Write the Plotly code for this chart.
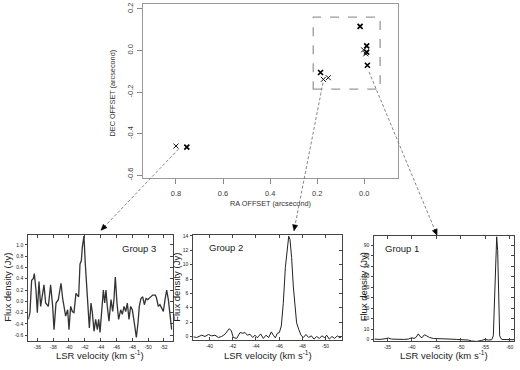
import plotly.graph_objects as go

# ---------------- data ----------------
ra_thin = [0.800, 0.174, 0.153, 0.003, -0.006]
dec_thin = [-0.460, -0.139, -0.131, 0.003, -0.016]
ra_bold = [0.754, 0.186, 0.018, -0.010, -0.010, -0.013]
dec_bold = [-0.465, -0.106, 0.116, 0.022, -0.008, -0.071]
box_ra = [0.217, -0.067]
box_dec = [-0.186, 0.161]

g3_vel = [-34.86, -35.07, -35.28, -35.49, -35.62, -35.83, -36.0, -36.21, -36.42, -36.59,
          -36.84, -37.05, -37.39, -37.68, -37.94, -38.11, -38.36, -38.65, -38.99, -39.2,
          -39.41, -39.58, -39.83, -40.0, -40.21, -40.42, -40.63, -40.88, -41.05, -41.22,
          -41.39, -41.56, -41.68, -41.89, -42.06, -42.23, -42.4, -42.57, -42.78, -42.95,
          -43.16, -43.37, -43.58, -43.75, -43.92, -44.13, -44.34, -44.51, -44.67, -44.84,
          -45.05, -45.31, -45.52, -45.68, -45.85, -46.06, -46.27, -46.53, -46.74, -46.95,
          -47.16, -47.37, -47.58, -47.79, -48.0, -48.25, -48.51, -48.72, -48.88, -49.09,
          -49.31, -49.52, -49.73, -49.94, -50.23, -50.57, -50.91, -51.07, -51.28, -51.49,
          -51.71, -51.92, -52.13, -52.34, -52.55, -52.76, -52.97]
g3_flux = [-0.32, -0.2, 0.37, 0.4, 0.49, 0.2, -0.2, 0.35, -0.09, 0.06,
           0.29, -0.03, -0.09, 0.29, -0.09, -0.5, -0.03, 0.03, 0.32, 0.05,
           -0.09, -0.26, -0.15, -0.5, -0.09, -0.18, -0.2, 0.14, 0.11, 0.08,
           0.66, 0.72, 0.95, 1.16, 0.66, 0.2, -0.09, -0.47, -0.03, -0.2,
           -0.53, -0.32, -0.5, -0.32, -0.55, -0.15, 0.2, -0.03, 0.2, -0.09,
           -0.35, 0.03, -0.18, 0.03, 0.43, -0.03, -0.32, -0.15, -0.23, -0.09,
           -0.18, -0.03, -0.32, -0.09, -0.15, -0.38, -0.64, -0.38, -0.09, 0.05,
           0.08, -0.06, 0.05, 0.03, 0.07, 0.11, 0.11, 0.05, -0.09, -0.06,
           -0.12, -0.18, 0.03, 0.2, 0.03, -0.26, -0.5]

g2_vel = [-38.61, -38.89, -39.33, -39.61, -39.9, -40.19, -40.47, -40.76, -41.05, -41.34,
          -41.54, -41.71, -41.88, -42.05, -42.34, -42.63, -42.86, -43.06, -43.26, -43.49,
          -43.72, -43.92, -44.12, -44.41, -44.64, -44.87, -45.1, -45.33, -45.5, -45.68,
          -45.85, -46.02, -46.19, -46.36, -46.54, -46.71, -46.83, -46.94, -47.08, -47.23,
          -47.37, -47.51, -47.69, -47.89, -48.09, -48.32, -48.55, -48.78, -49.01, -49.24,
          -49.47, -49.7, -49.93, -50.1, -50.33, -50.56, -50.79, -51.02, -51.25, -51.39]
g2_flux = [-0.05, -0.14, 0.18, 0.0, 0.27, 0.09, 0.18, -0.14, 0.0, 0.32,
           0.77, 1.09, 0.77, -0.14, -0.27, 0.55, 0.45, 0.55, 0.18, 0.32,
           -0.14, 0.18, -0.18, 0.36, -0.27, 0.18, -0.14, 0.64, 0.18, -0.18,
           0.45, 0.55, 1.45, 4.6, 9.6, 12.8, 13.95, 13.5, 11.0, 6.9,
           3.7, 1.9, 1.0, 0.18, -0.14, 0.27, -0.14, 0.09, -0.36, 0.0,
           -0.27, 0.09, -0.18, 0.18, -0.36, 0.0, -0.27, 0.09, -0.18, 0.0]

g1_vel = [-32.31, -33.47, -34.49, -35.17, -35.85, -36.87, -38.24, -39.26, -39.94, -40.42,
          -40.83, -41.3, -41.65, -42.06, -42.53, -43.01, -43.55, -44.37, -45.39, -46.42,
          -47.78, -49.15, -50.51, -51.53, -52.21, -53.24, -54.26, -54.94, -55.62, -56.3,
          -56.64, -56.92, -57.19, -57.33, -57.53, -57.73, -57.94, -58.35, -59.37, -60.39, -60.8]
g1_flux = [0.6, 0.3, 0.9, 1.6, 0.6, 0.3, 0.3, 0.6, 1.9, 1.2,
           2.2, 5.6, 3.1, 1.9, 4.7, 3.7, 2.2, 1.2, 1.2, 0.6,
           0.6, 0.3, 0.0, -0.3, -1.2, -1.6, -0.6, 0.3, -0.3, 0.0,
           3.7, 41.0, 91.0, 97.8, 84.7, 41.0, 3.7, 0.3, 0.0, 0.3, 0.0]

top_xticks = [0.8, 0.6, 0.4, 0.2, 0.0]
top_xlabels = ["0.8", "0.6", "0.4", "0.2", "0.0"]
top_yticks = [0.2, 0.0, -0.2, -0.4, -0.6]
top_ylabels = ["0.2", "0.0", "-0.2", "-0.4", "-0.6"]

g3_xticks = [-36, -38, -40, -42, -44, -46, -48, -50, -52]
g3_yticks = [1.0, 0.8, 0.6, 0.4, 0.2, 0.0, -0.2, -0.4, -0.6]
g3_ylabels = ["1.0", "0.8", "0.6", "0.4", "0.2", "0.0", "-0.2", "-0.4", "-0.6"]
g2_xticks = [-40, -42, -44, -46, -48, -50]
g2_yticks = [0, 2, 4, 6, 8, 10, 12, 14]
g1_xticks = [-35, -40, -45, -50, -55, -60]
g1_yticks = [0, 10, 20, 30, 40, 50, 60, 70, 80, 90]
group_names = ["Group 3", "Group 2", "Group 1"]

# ---------------- figure ----------------
W, H = 520, 370
FONT = "Liberation Sans, Arial, Helvetica, sans-serif"


def px(x):
    return x / W


def py(y):
    return 1 - y / H


fig = go.Figure()

# top scatter
fig.add_trace(go.Scatter(x=ra_thin, y=dec_thin, mode="markers", xaxis="x", yaxis="y",
                         marker=dict(symbol="x-thin", size=5, line=dict(width=1, color="#111")),
                         showlegend=False, hoverinfo="skip"))
fig.add_trace(go.Scatter(x=ra_bold, y=dec_bold, mode="markers", xaxis="x", yaxis="y",
                         marker=dict(symbol="x-thin", size=5, line=dict(width=1.7, color="#000")),
                         showlegend=False, hoverinfo="skip"))

# spectra
spec = [(g3_vel, g3_flux, "x2", "y2", "#333", 1.3),
        (g2_vel, g2_flux, "x3", "y3", "#222", 1.0),
        (g1_vel, g1_flux, "x4", "y4", "#222", 1.0)]
for v, f, xa, ya, c, w in spec:
    fig.add_trace(go.Scatter(x=v, y=f, mode="lines", xaxis=xa, yaxis=ya,
                             line=dict(color=c, width=w), showlegend=False, hoverinfo="skip"))

# dummy traces for top/right mirrored inside ticks
for k in (5, 6, 7):
    fig.add_trace(go.Scatter(x=[None], y=[None], xaxis=f"x{k}", yaxis=f"y{k}",
                             showlegend=False, hoverinfo="skip"))

top_axis_common = dict(showgrid=False, zeroline=False, showline=True, linecolor="#999",
                       linewidth=1.3, mirror=True, ticks="outside", ticklen=5,
                       tickcolor="#888", tickwidth=1,
                       tickfont=dict(size=7.5, color="#3a3a3a", family=FONT))

layout = dict(
    width=W, height=H, autosize=False,
    margin=dict(l=0, r=0, t=0, b=0),
    paper_bgcolor="white", plot_bgcolor="white",
    font=dict(family=FONT),
    xaxis=dict(domain=[px(143), px(398)], range=[0.94, -0.143], anchor="y",
               tickvals=top_xticks, ticktext=top_xlabels, ticklabelstandoff=3,
               **top_axis_common),
    yaxis=dict(domain=[py(177.5), py(1)], range=[-0.612, 0.224], anchor="x",
               tickvals=top_yticks, ticktext=top_ylabels, tickangle=-90,
               ticklabelstandoff=1, **top_axis_common),
)

panels = [
    (2, 5, [28.3, 172.7], [236, 343.3], [-34.86, -53.1], [-0.697, 1.17], g3_xticks, g3_yticks, g3_ylabels),
    (3, 6, [193.3, 341.7], [236, 343], [-38.6, -51.4], [-0.55, 14.1], g2_xticks, g2_yticks, [str(t) for t in g2_yticks]),
    (4, 7, [374.3, 514], [236.7, 344], [-32.3, -60.87], [-1.6, 98.7], g1_xticks, g1_yticks, [str(t) for t in g1_yticks]),
]

bot_common = dict(showgrid=False, zeroline=False, showline=True, linecolor="#444",
                  linewidth=1, tickcolor="#444", tickwidth=1,
                  tickfont=dict(size=5, color="#222", family=FONT))

for k, m, xd, yd, xr, yr, xt, yt, yl in panels:
    layout[f"xaxis{k}"] = dict(domain=[px(xd[0]), px(xd[1])], range=xr, anchor=f"y{k}",
                               tickvals=xt, ticktext=[str(t) for t in xt], ticks="inside",
                               ticklen=3, ticklabelstandoff=1, **bot_common)
    layout[f"yaxis{k}"] = dict(domain=[py(yd[1]), py(yd[0])], range=yr, anchor=f"x{k}",
                               tickvals=yt, ticktext=yl, ticks="outside", ticklen=2,
                               ticklabelstandoff=1, **bot_common)
    layout[f"xaxis{m}"] = dict(overlaying=f"x{k}", side="top", anchor=f"y{k}", range=xr,
                               tickvals=xt, ticks="inside", ticklen=3, showticklabels=False,
                               **bot_common)
    layout[f"yaxis{m}"] = dict(overlaying=f"y{k}", side="right", anchor=f"x{k}", range=yr,
                               tickvals=yt, ticks="inside", ticklen=3, showticklabels=False,
                               **bot_common)

fig.update_layout(**layout)

# dashed selection box on top plot
fig.add_shape(type="rect", xref="x", yref="y", x0=box_ra[0], x1=box_ra[1],
              y0=box_dec[0], y1=box_dec[1],
              line=dict(color="#999", width=1.3, dash="dash"))

# leader lines with small arrowheads (triangles)
leaders = [((178.5, 148.5), (101, 231)),
           ((323, 81), (294, 231.5)),
           ((369, 70), (437, 236))]
for (x0, y0), (x1, y1) in leaders:
    fig.add_shape(type="line", xref="paper", yref="paper", x0=px(x0), y0=py(y0),
                  x1=px(x1), y1=py(y1), line=dict(color="#777", width=0.9, dash="3px,2px"))
    dx, dy = x1 - x0, y1 - y0
    n = (dx * dx + dy * dy) ** 0.5
    ux, uy = dx / n, dy / n
    L, Wd = 6.0, 2.6
    bx, by = x1 - ux * L, y1 - uy * L
    p1 = (bx - uy * Wd, by + ux * Wd)
    p2 = (bx + uy * Wd, by - ux * Wd)
    path = (f"M {px(x1)} {py(y1)} L {px(p1[0])} {py(p1[1])} "
            f"L {px(p2[0])} {py(p2[1])} Z")
    fig.add_shape(type="path", xref="paper", yref="paper", path=path,
                  fillcolor="#000", line=dict(color="#000", width=0.5))

# axis titles / labels
ann = [
    dict(x=px(113), y=py(92), text="DEC OFFSET (arcsecond)", textangle=-90, size=7.3, color="#333"),
    dict(x=px(270), y=py(204), text="RA OFFSET (arcsecond)", textangle=0, size=7.3, color="#333"),
    dict(x=px(7.5), y=py(289), text="Flux density (Jy)", textangle=-90, size=9.5, color="#222"),
    dict(x=px(176.5), y=py(289), text="Flux density (Jy)", textangle=-90, size=9.5, color="#222"),
    dict(x=px(363), y=py(289), text="Flux density (Jy)", textangle=-90, size=9.5, color="#222"),
    dict(x=px(99.5), y=py(358), text="LSR velocity (km s<sup>-1</sup>)", textangle=0, size=9.5, color="#222"),
    dict(x=px(268), y=py(358), text="LSR velocity (km s<sup>-1</sup>)", textangle=0, size=9.5, color="#222"),
    dict(x=px(444), y=py(358), text="LSR velocity (km s<sup>-1</sup>)", textangle=0, size=9.5, color="#222"),
    dict(x=px(139), y=py(250), text=group_names[0], textangle=0, size=9.5, color="#222"),
    dict(x=px(226), y=py(249), text=group_names[1], textangle=0, size=9.5, color="#222"),
    dict(x=px(402), y=py(250), text=group_names[2], textangle=0, size=9.5, color="#222"),
]
for a in ann:
    fig.add_annotation(x=a["x"], y=a["y"], xref="paper", yref="paper", text=a["text"],
                       textangle=a["textangle"], showarrow=False,
                       font=dict(size=a["size"], color=a["color"], family=FONT),
                       xanchor="center", yanchor="middle")

fig.write_html("out.html", config={"displayModeBar": False, "staticPlot": True},
               post_script="document.body.style.margin='0';")
